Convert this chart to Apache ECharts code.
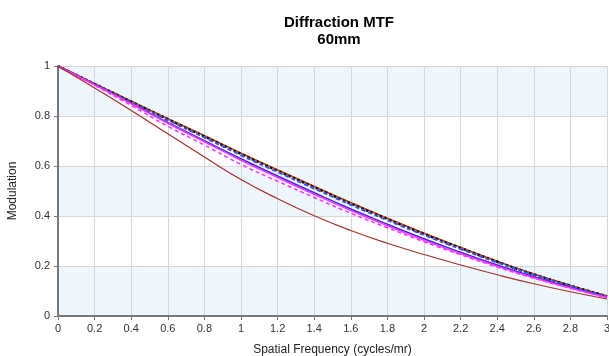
<!DOCTYPE html>
<html>
<head>
<meta charset="utf-8">
<script src="https://cdn.jsdelivr.net/npm/echarts@6/dist/echarts.min.js"></script>
<style>
  html, body { margin: 0; padding: 0; background: #fff; }
  #chart { width: 609px; height: 356px; }
</style>
</head>
<body>
<div id="chart"></div>
<script>
// spatial frequency (cycles/mr)
const freq = [0, 0.2, 0.4, 0.6, 0.8, 1.0, 1.2, 1.4, 1.6, 1.8, 2.0, 2.2, 2.4, 2.6, 2.8, 3.0];

// modulation, one array per curve
const greenSolid   = [1, 0.929, 0.859, 0.789, 0.721, 0.651, 0.584, 0.518, 0.453, 0.391, 0.331, 0.274, 0.219, 0.168, 0.122, 0.080];
const redSolid     = [1, 0.929, 0.859, 0.789, 0.721, 0.651, 0.584, 0.518, 0.453, 0.391, 0.331, 0.274, 0.219, 0.168, 0.122, 0.080];
const blackDotted  = [1, 0.928, 0.857, 0.787, 0.718, 0.648, 0.581, 0.515, 0.450, 0.388, 0.328, 0.272, 0.217, 0.166, 0.121, 0.079];
const blueDashed   = [1, 0.927, 0.855, 0.783, 0.714, 0.643, 0.576, 0.510, 0.445, 0.383, 0.324, 0.268, 0.214, 0.164, 0.119, 0.078];
const blueSolid    = [1, 0.926, 0.851, 0.774, 0.701, 0.629, 0.560, 0.493, 0.428, 0.367, 0.309, 0.255, 0.204, 0.157, 0.115, 0.076];
const magentaSolid = [1, 0.925, 0.849, 0.771, 0.697, 0.623, 0.554, 0.487, 0.422, 0.361, 0.303, 0.249, 0.199, 0.153, 0.112, 0.074];
const magentaDash  = [1, 0.923, 0.842, 0.759, 0.684, 0.606, 0.539, 0.474, 0.411, 0.353, 0.297, 0.245, 0.196, 0.151, 0.111, 0.073];
const brownSolid   = [1, 0.912, 0.822, 0.729, 0.636, 0.546, 0.469, 0.401, 0.342, 0.291, 0.246, 0.204, 0.165, 0.129, 0.097, 0.068];

const pairs = ys => freq.map((x, i) => [x, ys[i]]);

function line(name, ys, color, type, width) {
  return {
    name: name,
    type: 'line',
    data: pairs(ys),
    smooth: true,
    showSymbol: false,
    lineStyle: { color: color, type: type, width: width },
    silent: true
  };
}

const chart = echarts.init(document.getElementById('chart'), null, { renderer: 'canvas' });

chart.setOption({
  animation: false,
  textStyle: { fontFamily: 'Liberation Sans, Arial, sans-serif' },
  title: {
    text: 'Diffraction MTF\n60mm',
    left: 334,
    top: 9,
    textAlign: 'center',
    textStyle: { fontSize: 15, fontWeight: 'bold', color: '#000', lineHeight: 17 }
  },
  grid: { left: 58, top: 66, right: 2, bottom: 40, containLabel: false, outerBoundsMode: 'none' },
  xAxis: {
    type: 'value',
    min: 0,
    max: 3,
    interval: 0.2,
    name: 'Spatial Frequency (cycles/mr)',
    nameLocation: 'middle',
    nameGap: 28,
    nameTextStyle: { fontSize: 12, color: '#222' },
    axisLine: { lineStyle: { color: '#777', width: 2 } },
    axisTick: { show: true, length: 4, lineStyle: { color: '#777' } },
    axisLabel: { fontSize: 11, color: '#333', margin: 7, showMaxLabel: true },
    splitLine: { show: true, lineStyle: { color: '#d6d6d6', width: 1 } }
  },
  yAxis: {
    type: 'value',
    min: 0,
    max: 1,
    interval: 0.2,
    name: 'Modulation',
    nameLocation: 'middle',
    nameGap: 39,
    nameRotate: 90,
    nameTextStyle: { fontSize: 12, color: '#222' },
    axisLine: { show: true, lineStyle: { color: '#777', width: 2 } },
    axisTick: { show: true, length: 4, lineStyle: { color: '#777' } },
    axisLabel: { fontSize: 11, color: '#333', margin: 8 },
    splitLine: { show: true, lineStyle: { color: '#d6d6d6', width: 1 } },
    splitArea: { show: true, areaStyle: { color: ['#eef6fd', '#ffffff'] } }
  },
  series: [
    line('green', greenSolid, '#22aa22', 'solid', 1.5),
    line('red', redSolid, '#f03c14', 'solid', 1.5),
    line('black', blackDotted, '#111111', 'dotted', 2.5),
    line('blue dashed', blueDashed, '#3355ff', [4, 3], 2),
    line('blue', blueSolid, '#3a28e0', 'solid', 1.5),
    line('magenta', magentaSolid, '#ff33ff', 'solid', 1.5),
    line('magenta dashed', magentaDash, '#ff33ff', [4, 3], 1.5),
    line('brown', brownSolid, '#a33028', 'solid', 1.2)
  ]
});
</script>
</body>
</html>
